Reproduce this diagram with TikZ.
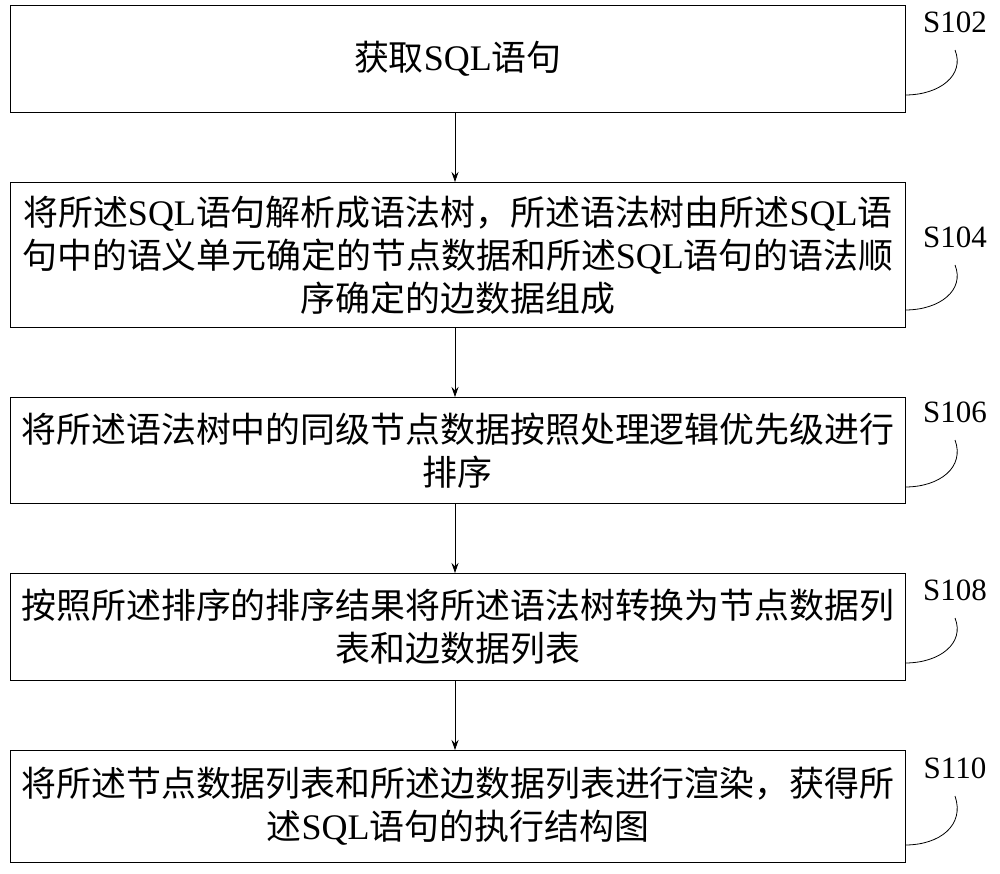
\documentclass[tikz,border=0pt]{standalone}
\usepackage{fontspec}
\setmainfont{Liberation Serif}
\newfontfamily\cjk{Noto Sans CJK SC}[Scale=0.97]
\usetikzlibrary{arrows.meta}
\begin{document}
\begin{tikzpicture}[x=1pt,y=-1pt,
 stepbox/.style={draw,thick,minimum width=895pt,anchor=north west,inner sep=0pt,align=center,font=\fontsize{36}{43}\selectfont},
 lab/.style={font=\fontsize{31}{32}\selectfont},
 arr/.style={-{Stealth[length=10pt,width=7pt]},thick}]
\useasboundingbox (0,0) rectangle (1000,873);
\node[stepbox,minimum height=107pt] (b1) at (10,5) {{\cjk 获取}SQL{\cjk 语句}};
\node[stepbox,minimum height=145pt] (b2) at (10,182) {{\cjk 将所述}SQL{\cjk 语句解析成语法树，所述语法树由所述}SQL{\cjk 语}\\{\cjk 句中的语义单元确定的节点数据和所述}SQL{\cjk 语句的语法顺}\\{\cjk 序确定的边数据组成}};
\node[stepbox,minimum height=106pt] (b3) at (10,397) {{\cjk 将所述语法树中的同级节点数据按照处理逻辑优先级进行}\\{\cjk 排序}};
\node[stepbox,minimum height=107pt] (b4) at (10,573) {{\cjk 按照所述排序的排序结果将所述语法树转换为节点数据列}\\{\cjk 表和边数据列表}};
\node[stepbox,minimum height=112pt] (b5) at (10,750) {{\cjk 将所述节点数据列表和所述边数据列表进行渲染，获得所}\\{\cjk 述}SQL{\cjk 语句的执行结构图}};
\foreach \a/\b in {b1/b2,b2/b3,b3/b4,b4/b5}
  \draw[arr] (\a.south -| 455,0) -- (\b.north -| 455,0);
\foreach \n/\t/\y/\by in {l1/S102/22/95,l2/S104/237/310,l3/S106/412/487,l4/S108/590/663,l5/S110/768/845}{
  \node[lab] (\n) at (955,\y) {\t};
  \coordinate (\n e) at (905,\by);
  \draw[thick] (\n e) .. controls (940,\by) and (965,\by-20) .. ([yshift=-14pt]\n.south);
}
\end{tikzpicture}
\end{document}
